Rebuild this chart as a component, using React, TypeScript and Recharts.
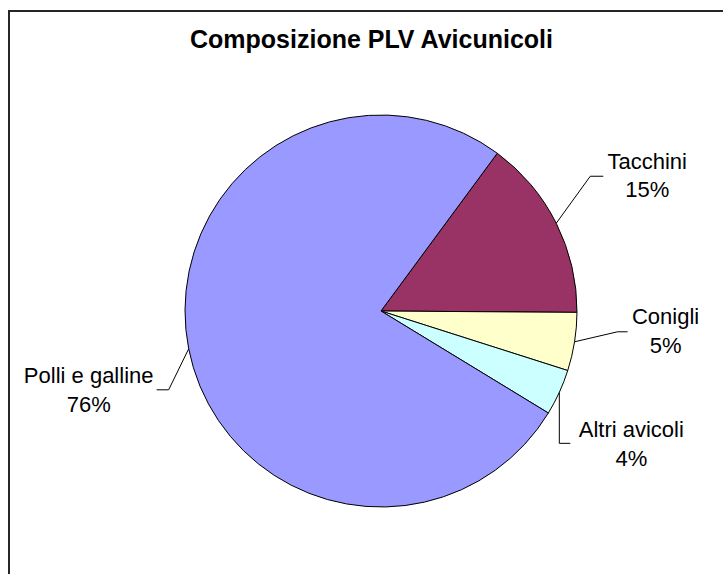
import { PieChart, Pie, Cell } from "recharts";

const categories = ["Tacchini", "Conigli", "Altri avicoli", "Polli e galline"];
const values = [15.0, 4.8, 3.8, 76.4];
const colors = ["#993366", "#FFFFCC", "#CCFFFF", "#9999FF"];

const FONT = "'Liberation Sans', Arial, sans-serif";
const RAD = Math.PI / 180;

// leader line + text placement, offsets from the slice's outer mid point
const LABEL_LAYOUT = [
  { elbow: [34, -47], end: [47, -47], tx: 91, base: [-54, -26] },
  { elbow: [43, -10], end: [53, -10], tx: 91, base: [-18, 11] },
  { elbow: [0, 51], end: [11, 51], tx: 72, base: [45, 74] },
  { elbow: [-20, 41], end: [-32, 41], tx: -100, base: [34, 63] },
];

const rows = categories.map((name, i) => ({ name, value: values[i] }));

function renderLabel(props: any) {
  const { cx, cy, midAngle, outerRadius, percent, index, name } = props;
  const x0 = cx + outerRadius * Math.cos(-midAngle * RAD);
  const y0 = cy + outerRadius * Math.sin(-midAngle * RAD);
  const l = LABEL_LAYOUT[index];
  const pts = [
    [x0, y0],
    [x0 + l.elbow[0], y0 + l.elbow[1]],
    [x0 + l.end[0], y0 + l.end[1]],
  ]
    .map((p) => p.join(","))
    .join(" ");
  return (
    <g key={`lbl-${index}`}>
      <polyline points={pts} fill="none" stroke="#000" strokeWidth={1} />
      <text x={x0 + l.tx} y={y0 + l.base[0]} textAnchor="middle" fontFamily={FONT} fontSize={22} fill="#000">
        {name}
      </text>
      <text x={x0 + l.tx} y={y0 + l.base[1]} textAnchor="middle" fontFamily={FONT} fontSize={22} fill="#000">
        {`${Math.round(percent * 100)}%`}
      </text>
    </g>
  );
}

export default function App() {
  return (
    <div style={{ position: "absolute", left: 0, top: 0, width: 723, height: 574, overflow: "hidden", background: "#fff" }}>
      {/* chart frame, cut off on the right and bottom */}
      <div
        style={{
          position: "absolute", left: 8, top: 10, width: 800, height: 700,
          borderTop: "2px solid #262626", borderLeft: "2px solid #262626",
        }}
      />
      <div
        style={{
          position: "absolute", left: 0, top: 27, width: 743, textAlign: "center",
          fontFamily: FONT, fontWeight: "bold", fontSize: 25, lineHeight: "25px", color: "#000",
        }}
      >
        Composizione PLV Avicunicoli
      </div>
      <div style={{ position: "absolute", left: 0, top: 0 }}>
        <PieChart width={723} height={574} margin={{ top: 0, right: 0, bottom: 0, left: 0 }}>
          <Pie
            data={rows}
            dataKey="value"
            nameKey="name"
            cx={381}
            cy={311}
            outerRadius={196}
            startAngle={53.6}
            endAngle={-306.4}
            stroke="#000"
            strokeWidth={1}
            label={renderLabel}
            labelLine={false}
            isAnimationActive={false}
          >
            {rows.map((r, i) => (
              <Cell key={r.name} fill={colors[i]} />
            ))}
          </Pie>
        </PieChart>
      </div>
    </div>
  );
}
